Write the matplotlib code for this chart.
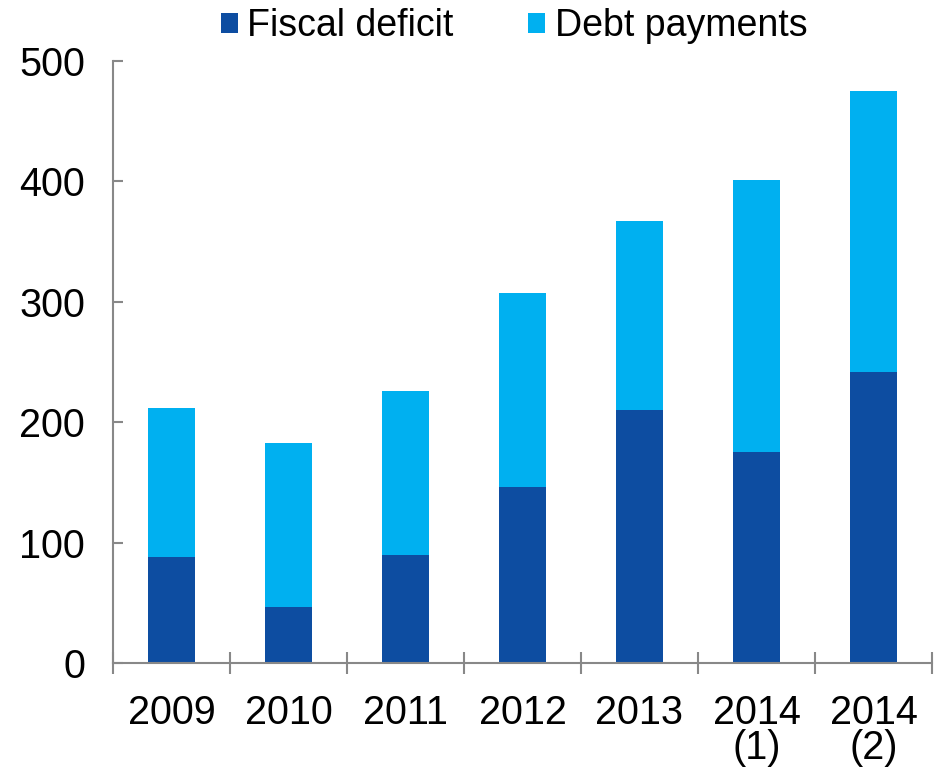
import numpy as np
import matplotlib.pyplot as plt

plt.rcParams['font.family'] = ['Liberation Sans', 'DejaVu Sans']

years = ['2009', '2010', '2011', '2012', '2013', '2014\n(1)', '2014\n(2)']
fiscal_deficit = [88, 46.5, 89.5, 146, 210, 175, 241.5]
totals = [212, 183, 226, 307, 367, 401, 475]
debt_payments = [t - f for t, f in zip(totals, fiscal_deficit)]

dark_blue = '#0d4da1'
light_blue = '#00b0f0'
grey = '#888888'
fs = 28.5

fig = plt.figure(figsize=(9.36, 7.74), dpi=100)
ax = fig.add_axes([0.1207, 0.1434, 0.875, 0.7778])

x = np.arange(len(years))
ax.bar(x, fiscal_deficit, width=0.4, color=dark_blue, label='Fiscal deficit')
ax.bar(x, debt_payments, width=0.4, bottom=fiscal_deficit, color=light_blue,
       label='Debt payments')

ax.set_xlim(-0.5, len(years) - 0.5)
ax.set_ylim(0, 500)
ax.set_yticks([0, 100, 200, 300, 400, 500])

# x ticks sit between the categories, labels in the middle
ax.set_xticks(np.arange(len(years) + 1) - 0.5)
ax.set_xticklabels([])
ax.set_xticks(x, minor=True)
ax.set_xticklabels(years, minor=True, linespacing=0.9)
ax.tick_params(axis='x', which='major', direction='inout', length=16, color=grey, width=1.5)
ax.tick_params(axis='x', which='minor', length=0, labelsize=fs, pad=22)
ax.tick_params(axis='y', direction='in', length=7, color=grey, width=1.5, labelsize=fs, pad=20)

for side in ['top', 'right']:
    ax.spines[side].set_visible(False)
for side in ['left', 'bottom']:
    ax.spines[side].set_color(grey)
    ax.spines[side].set_linewidth(1.5)

fig.legend(*ax.get_legend_handles_labels(), loc='center',
           bbox_to_anchor=(514 / 936, 1 - 26 / 774), ncol=2, frameon=False,
           fontsize=27, handlelength=0.45, handleheight=0.45, handletextpad=0.25,
           columnspacing=2.0, borderaxespad=0, borderpad=0)

fig.savefig('out.png', dpi=100)
